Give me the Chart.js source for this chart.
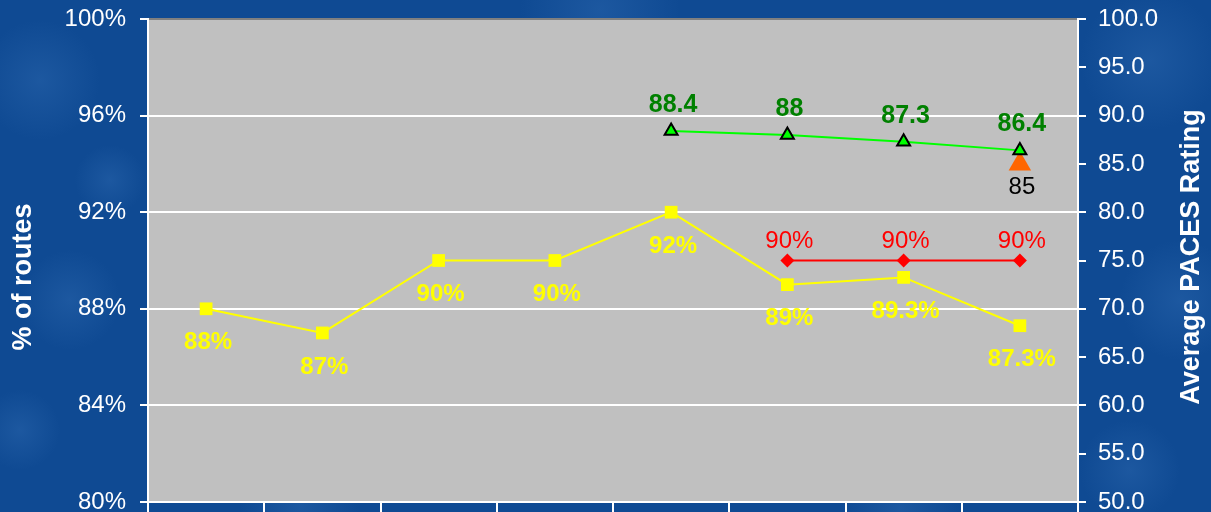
<!DOCTYPE html>
<html>
<head>
<meta charset="utf-8">
<script src="https://cdn.jsdelivr.net/npm/chart.js@4/dist/chart.umd.min.js"></script>
<style>
  html, body { margin: 0; padding: 0; background: #0f4a93; overflow: hidden; }
  canvas { display: block; }
</style>
</head>
<body>
<canvas id="routesChart" width="1211" height="515"></canvas>
<script>
var periods = ["1", "2", "3", "4", "5", "6", "7", "8"];

// % of routes (left axis)
var routesPct = [88, 87, 90, 90, 92, 89, 89.3, 87.3];
var targetPct = [null, null, null, null, null, 90, 90, 90];

// average PACES rating (right axis)
var pacesRating = [null, null, null, null, 88.4, 88, 87.3, 86.4];
var pacesTarget = [null, null, null, null, null, null, null, 85];

var pctTicks = { min: 80, max: 100, step: 4 };
var ratingTicks = { min: 50, max: 100, step: 5 };

var FONT = "'Liberation Sans', Arial, sans-serif";

// mottled blue backdrop + grey plot area
var backdrop = {
    id: 'backdrop',
    beforeDraw: function (chart) {
        var c = chart.ctx, w = chart.width, h = chart.height;
        c.save();
        c.fillStyle = '#0f4a93';
        c.fillRect(0, 0, w, h);
        var spots = [[40, 80, 60], [70, 300, 50], [20, 430, 40], [1150, 60, 70],
                     [1180, 300, 60], [1130, 470, 50], [600, 10, 80], [300, 505, 60],
                     [900, 508, 60], [110, 180, 35]];
        spots.forEach(function (s) {
            var g = c.createRadialGradient(s[0], s[1], 0, s[0], s[1], s[2]);
            g.addColorStop(0, 'rgba(60,120,190,0.3)');
            g.addColorStop(1, 'rgba(60,120,190,0)');
            c.fillStyle = g;
            c.fillRect(s[0] - s[2], s[1] - s[2], s[2] * 2, s[2] * 2);
        });
        var a = chart.chartArea;
        c.fillStyle = '#c0c0c0';
        c.fillRect(a.left, a.top, a.right - a.left, a.bottom - a.top);
        c.restore();
    },
    afterDraw: function (chart) {
        var c = chart.ctx;
        c.save();
        c.fillStyle = '#ffffff';
        c.font = 'bold 27px ' + FONT;
        c.textAlign = 'center';
        c.textBaseline = 'middle';
        c.translate(24, 277);
        c.rotate(-Math.PI / 2);
        c.fillText('% of routes', 0, 0);
        c.restore();
        c.save();
        c.fillStyle = '#ffffff';
        c.font = 'bold 27px ' + FONT;
        c.textAlign = 'center';
        c.textBaseline = 'middle';
        c.translate(1192, 257);
        c.rotate(-Math.PI / 2);
        c.fillText('Average PACES Rating', 0, 0);
        c.restore();
    }
};

// value labels next to each point
var pointLabels = {
    id: 'pointLabels',
    afterDatasetsDraw: function (chart) {
        var c = chart.ctx;
        chart.data.datasets.forEach(function (ds, i) {
            var meta = chart.getDatasetMeta(i);
            c.save();
            c.fillStyle = ds.labelColor;
            c.font = ds.labelFont;
            c.textAlign = 'center';
            c.textBaseline = 'middle';
            meta.data.forEach(function (pt, j) {
                var v = ds.data[j];
                if (v === null) return;
                c.fillText(ds.labelFormat(v), pt.x + 2, pt.y + ds.labelOffset);
            });
            c.restore();
        });
    }
};

// keep the plot area pinned, no extra room for half tick labels
function noLabelPadding(s) {
    s.paddingTop = 0;
    s.paddingBottom = 0;
}

var ctx = document.getElementById('routesChart').getContext('2d');
var chart = new Chart(ctx, {
    type: 'line',
    data: {
        labels: periods,
        datasets: [{
            data: pacesTarget,
            yAxisID: 'y1',
            order: 4,
            showLine: false,
            pointStyle: 'triangle',
            pointRadius: 13,
            pointBackgroundColor: '#ff6600',
            pointBorderColor: '#ff6600',
            pointBorderWidth: 0,
            labelColor: '#000000',
            labelFont: '24px ' + FONT,
            labelOffset: 23,
            labelFormat: function (v) { return String(v); }
        }, {
            data: routesPct,
            yAxisID: 'y',
            order: 3,
            borderColor: '#ffff00',
            borderWidth: 2,
            pointStyle: 'rect',
            pointRadius: 9,
            pointBackgroundColor: '#ffff00',
            pointBorderColor: '#ffff00',
            pointBorderWidth: 0,
            labelColor: '#ffff00',
            labelFont: 'bold 24px ' + FONT,
            labelOffset: 34,
            labelFormat: function (v) { return v + '%'; }
        }, {
            data: targetPct,
            yAxisID: 'y',
            order: 2,
            borderColor: '#ff0000',
            borderWidth: 2,
            pointStyle: 'rectRot',
            pointRadius: 7,
            pointBackgroundColor: '#ff0000',
            pointBorderColor: '#ff0000',
            pointBorderWidth: 0,
            labelColor: '#ff0000',
            labelFont: '24px ' + FONT,
            labelOffset: -19,
            labelFormat: function (v) { return v + '%'; }
        }, {
            data: pacesRating,
            yAxisID: 'y1',
            order: 1,
            borderColor: '#00ff00',
            borderWidth: 2,
            pointStyle: 'triangle',
            pointRadius: 7.5,
            pointBackgroundColor: '#00ff00',
            pointBorderColor: '#000000',
            pointBorderWidth: 2,
            labelColor: '#008000',
            labelFont: 'bold 25px ' + FONT,
            labelOffset: -26,
            labelFormat: function (v) { return String(v); }
        }]
    },
    options: {
        responsive: false,
        animation: false,
        events: [],
        layout: { padding: { top: 19, left: 0, right: 0, bottom: 0 } },
        plugins: { legend: { display: false }, tooltip: { enabled: false } },
        scales: {
            x: {
                offset: true,
                afterFit: function (s) { s.height = 10; },
                ticks: { display: false },
                grid: { offset: true, drawOnChartArea: false, drawTicks: true, tickLength: 12, color: '#ffffff', lineWidth: 2 },
                border: { color: '#ffffff', width: 2 }
            },
            y: {
                position: 'left',
                min: pctTicks.min,
                max: pctTicks.max,
                afterFit: function (s) { s.width = 148; noLabelPadding(s); },
                ticks: {
                    stepSize: pctTicks.step,
                    color: '#ffffff',
                    padding: 14,
                    font: { family: FONT, size: 24 },
                    callback: function (v) { return v + '%'; }
                },
                grid: {
                    color: function (c) { return c.tick && c.tick.value === pctTicks.max ? '#808080' : '#ffffff'; },
                    tickColor: '#ffffff',
                    lineWidth: 2,
                    tickLength: 8
                },
                border: { color: '#ffffff', width: 2 }
            },
            y1: {
                position: 'right',
                min: ratingTicks.min,
                max: ratingTicks.max,
                afterFit: function (s) { s.width = 133; noLabelPadding(s); },
                ticks: {
                    stepSize: ratingTicks.step,
                    color: '#ffffff',
                    padding: 12,
                    font: { family: FONT, size: 24 },
                    callback: function (v) { return v.toFixed(1); }
                },
                grid: { drawOnChartArea: false, tickColor: '#ffffff', lineWidth: 2, tickLength: 8 },
                border: { color: '#ffffff', width: 2 }
            }
        }
    },
    plugins: [backdrop, pointLabels]
});
</script>
</body>
</html>
